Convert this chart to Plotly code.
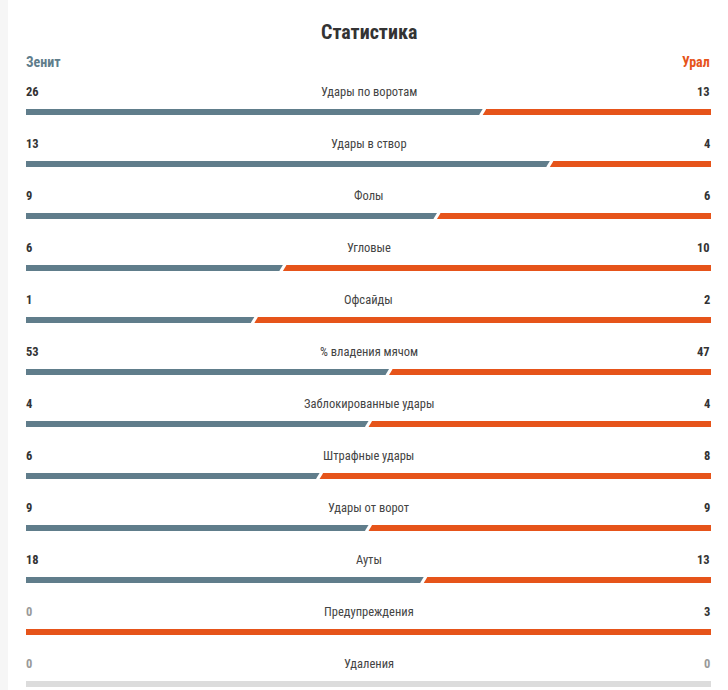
import plotly.graph_objects as go

categories = ["Удары по воротам", "Удары в створ", "Фолы", "Угловые", "Офсайды",
              "% владения мячом", "Заблокированные удары", "Штрафные удары",
              "Удары от ворот", "Ауты", "Предупреждения", "Удаления"]
home_values = [26, 13, 9, 6, 1, 53, 4, 6, 9, 18, 0, 0]
away_values = [13, 4, 6, 10, 2, 47, 4, 8, 9, 13, 3, 0]
home_team = "Зенит"
away_team = "Урал"
title_text = "Статистика"

GRAY = "#607d8b"
ORANGE = "#e6541a"
EMPTY = "#dcdcdc"
TEXT = "#333333"
FONT = "Roboto Condensed, Liberation Sans Narrow, Roboto, sans-serif"

W, H = 728, 690
L, R = 26, 17
T, B = 60, 0
row_px = 52
first_bar_px = 112
y_top = (T - first_bar_px) / row_px
y_bot = (H - B - first_bar_px) / row_px
bar_w = 6 / row_px

rows = list(range(len(categories)))
home_frac, away_frac, empty_frac = [], [], []
for h, a in zip(home_values, away_values):
    tot = h + a
    if tot == 0:
        home_frac.append(0); away_frac.append(0); empty_frac.append(1)
    else:
        home_frac.append(h / tot); away_frac.append(a / tot); empty_frac.append(0)

fig = go.Figure()
fig.add_trace(go.Bar(y=rows, x=home_frac, orientation="h", marker=dict(color=GRAY, line=dict(width=0)),
                     width=bar_w, hoverinfo="skip", showlegend=False))
fig.add_trace(go.Bar(y=rows, x=away_frac, orientation="h", marker=dict(color=ORANGE, line=dict(width=0)),
                     width=bar_w, hoverinfo="skip", showlegend=False))
fig.add_trace(go.Bar(y=rows, x=empty_frac, orientation="h", marker=dict(color=EMPTY, line=dict(width=0)),
                     width=bar_w, hoverinfo="skip", showlegend=False))

# slanted white separators
dx = 2.2 / (W - L - R)
for i, (hf, af) in enumerate(zip(home_frac, away_frac)):
    if hf > 0 and af > 0:
        fig.add_trace(go.Scatter(x=[hf - dx, hf + dx], y=[i + bar_w * 0.6, i - bar_w * 0.6],
                                 mode="lines", line=dict(color="white", width=3),
                                 hoverinfo="skip", showlegend=False))

annotations = []
for i, (cat, h, a) in enumerate(zip(categories, home_values, away_values)):
    annotations.append(dict(x=0.5, y=i, xref="x", yref="y", text=cat, showarrow=False,
                            yshift=21, font=dict(family=FONT, size=12.5, color="#444444"),
                            xanchor="center", yanchor="middle"))
    annotations.append(dict(x=0, y=i, xref="x", yref="y", text=f"<b>{h}</b>", showarrow=False,
                            yshift=21, xshift=-2, font=dict(family=FONT, size=12.5, color=TEXT if h else "#999999"),
                            xanchor="left", yanchor="middle"))
    annotations.append(dict(x=1, y=i, xref="x", yref="y", text=f"<b>{a}</b>", showarrow=False,
                            yshift=21, xshift=1, font=dict(family=FONT, size=12.5, color=TEXT if a else "#999999"),
                            xanchor="right", yanchor="middle"))

annotations.append(dict(x=0, y=y_top + (62 - T) / row_px, xref="x", yref="y", text=f"<b>{home_team}</b>",
                        showarrow=False, xshift=-2, font=dict(family=FONT, size=14, color=GRAY),
                        xanchor="left", yanchor="middle"))
annotations.append(dict(x=1, y=y_top + (62 - T) / row_px, xref="x", yref="y", text=f"<b>{away_team}</b>",
                        showarrow=False, xshift=1, font=dict(family=FONT, size=14, color=ORANGE),
                        xanchor="right", yanchor="middle"))
annotations.append(dict(x=0.5, y=1, xref="paper", yref="paper", yshift=(T - 32), text=f"<b>{title_text}</b>",
                        showarrow=False, font=dict(family=FONT, size=20, color=TEXT),
                        xanchor="center", yanchor="middle"))

fig.update_layout(
    width=W, height=H,
    margin=dict(l=L, r=R, t=T, b=B),
    barmode="stack",
    bargap=0,
    plot_bgcolor="white", paper_bgcolor="white",
    xaxis=dict(range=[0, 1], visible=False, fixedrange=True),
    yaxis=dict(range=[y_bot, y_top], visible=False, fixedrange=True),
    annotations=annotations,
    shapes=[dict(type="rect", xref="paper", yref="paper", x0=-L / (W - L - R), x1=-(L - 8) / (W - L - R),
                 y0=-1, y1=2, fillcolor="#f6f6f6", line=dict(width=0), layer="below")],
)

fig.write_html("out.html", config={"displayModeBar": False})
